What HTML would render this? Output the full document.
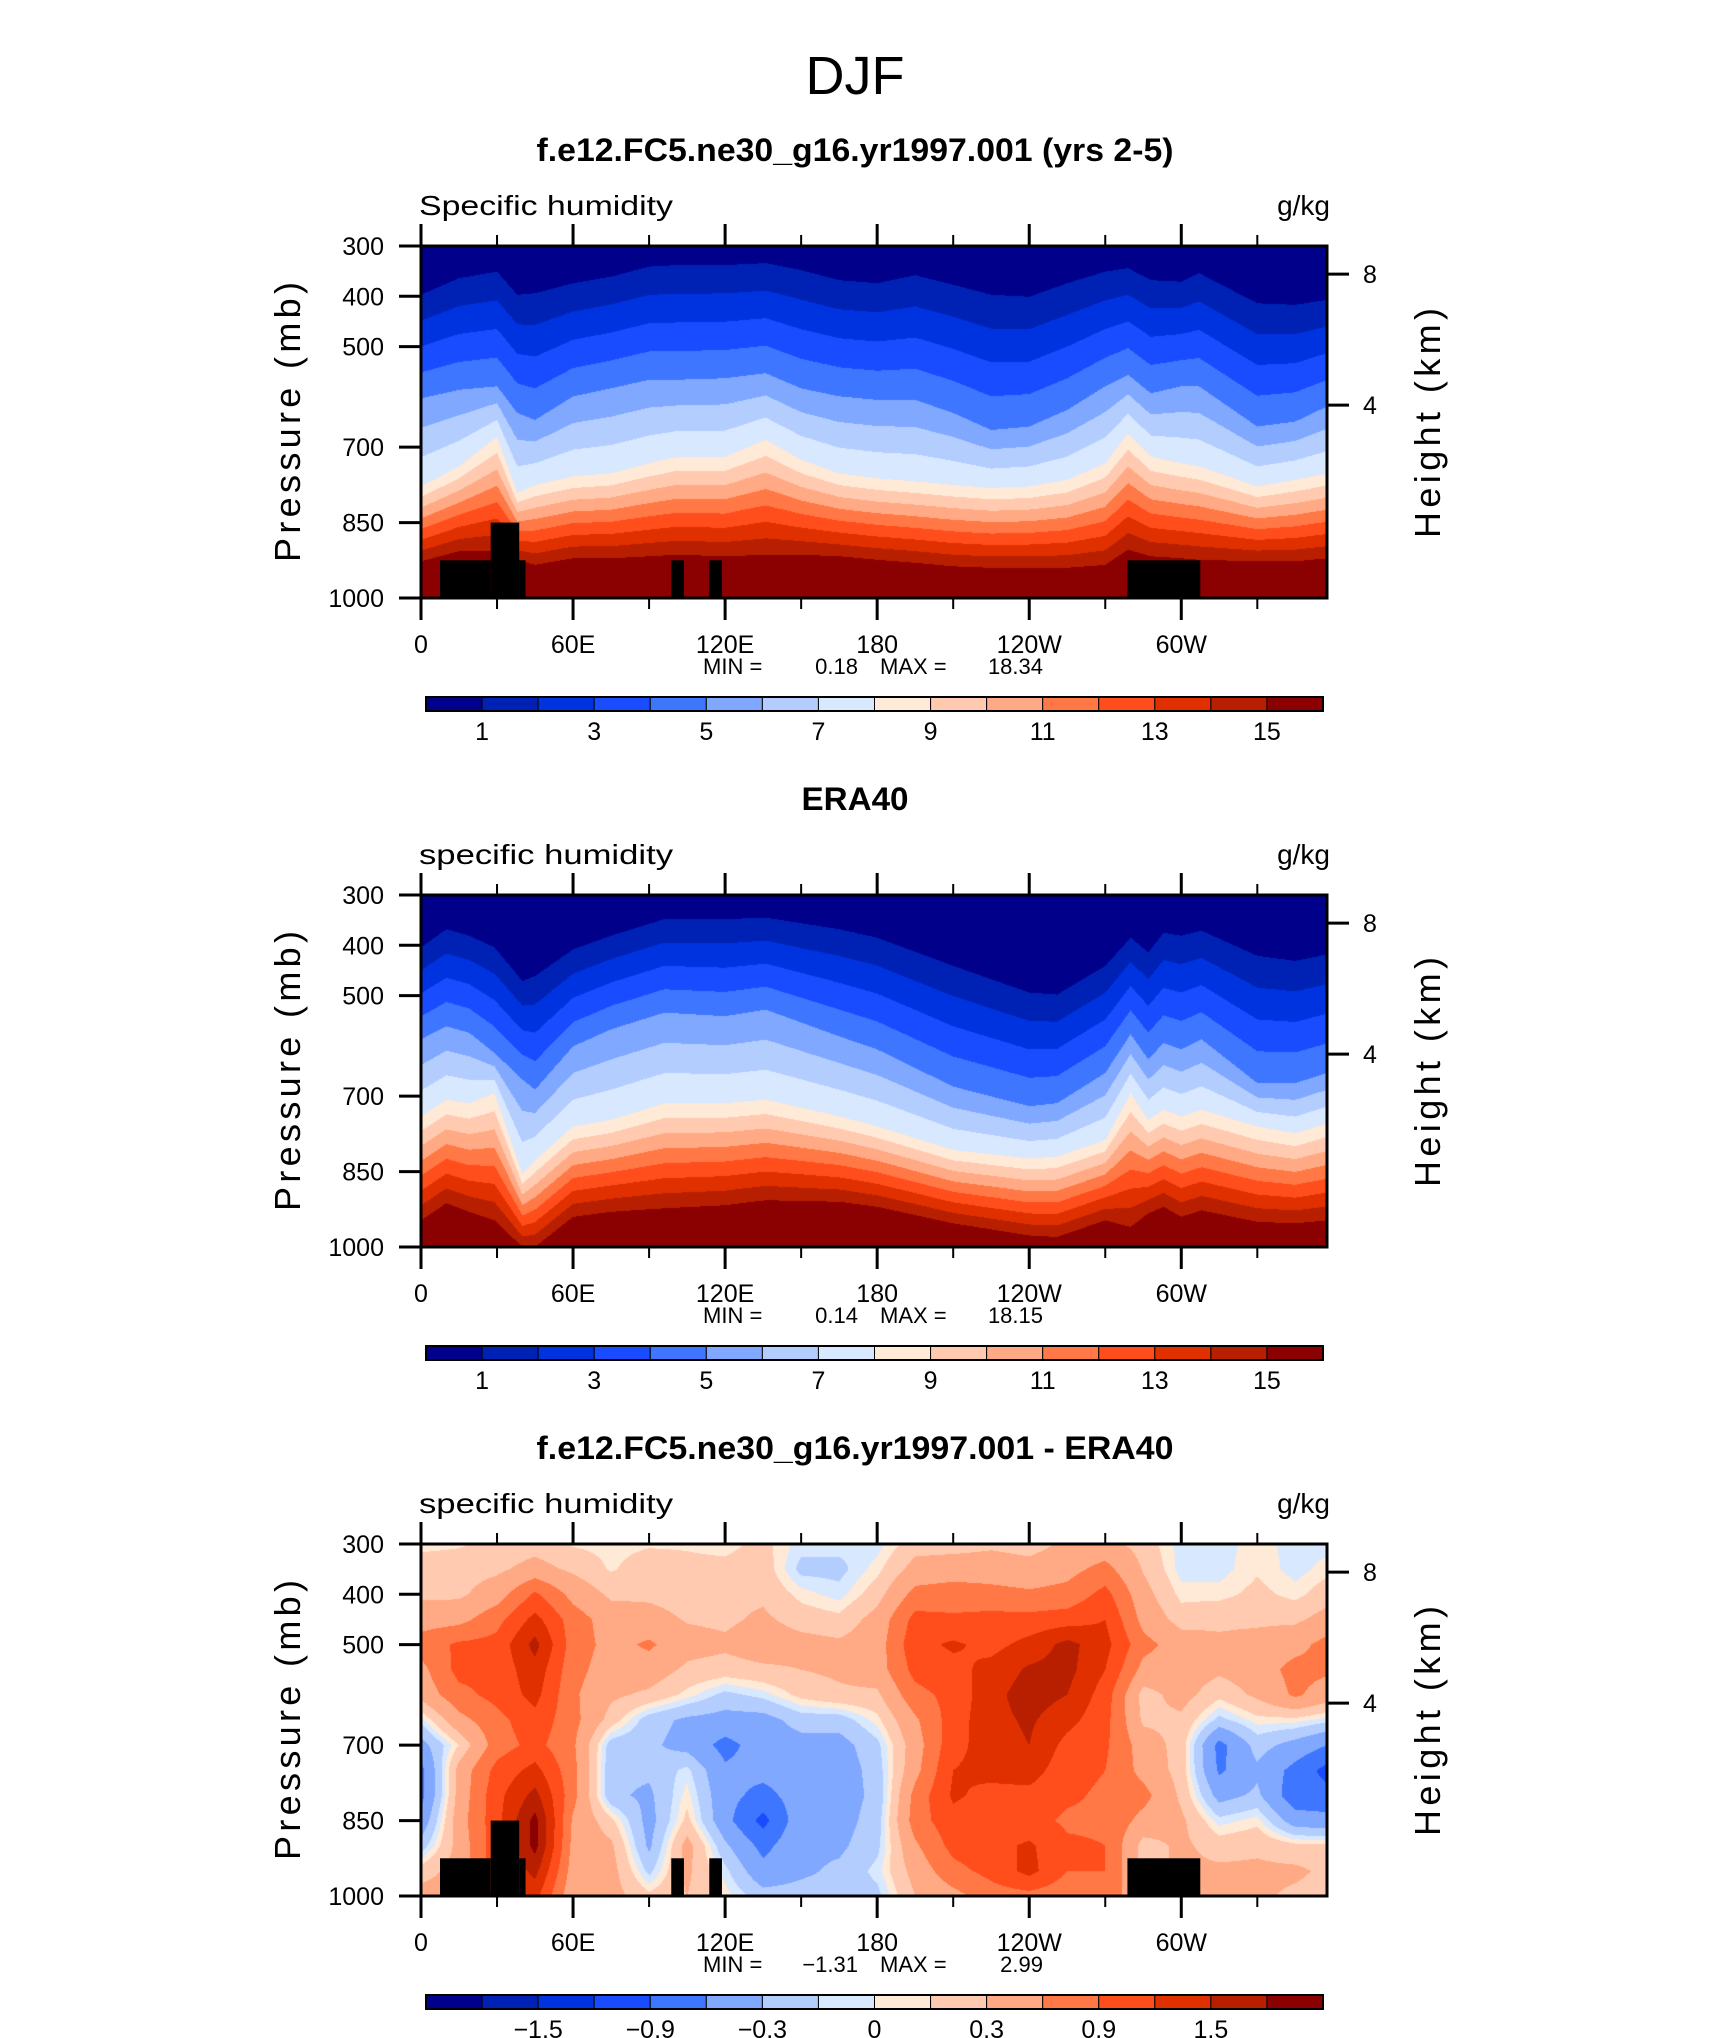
<!DOCTYPE html>
<html><head><meta charset="utf-8">
<style>
html,body{margin:0;padding:0;background:#fff;}
#wrap{position:relative;width:1710px;height:2038px;overflow:hidden;background:#fff;}
canvas{position:absolute;}
svg{position:absolute;left:0;top:0;}
text{font-family:"Liberation Sans",sans-serif;fill:#000;}
</style></head>
<body>
<div id="wrap">
<canvas id="c0" width="906" height="352" style="left:421px;top:246px"></canvas>
<canvas id="c1" width="906" height="352" style="left:421px;top:895px"></canvas>
<canvas id="c2" width="906" height="352" style="left:421px;top:1544px"></canvas>
<svg id="svg" width="1710" height="2038" xmlns="http://www.w3.org/2000/svg">
<text x="855" y="94" text-anchor="middle" font-size="54">DJF</text>
</svg>
</div>
<script>
// ---------------- data ----------------
const COLORS = ['#00008B','#0022B4','#0033E0','#1A4CFF','#3F76FF','#80A8FF','#B4CDFF','#D7E8FF','#FFE9D7','#FFCAB0','#FFAA84','#FF7846','#FF4D1C','#E03000','#B71F00','#8B0000'];
const Q_LABELS = ['1','3','5','7','9','11','13','15'];
const DIFF_LEVELS = [-1.8,-1.5,-1.2,-0.9,-0.6,-0.3,-0.1,0,0.1,0.3,0.6,0.9,1.2,1.5,1.8];
const DIFF_LABELS = ['\u22121.5','\u22120.9','\u22120.3','0','0.3','0.9','1.5'];
const P_TICKS = [300,400,500,700,850,1000];
const H_TICKS = [8,4];
const LON_MAJOR = [0,60,120,180,240,300];
const LON_LABELS = ['0','60E','120E','180','120W','60W'];
const LON_MINOR = [30,90,150,210,270,330];

// Model (panel 1): pressure (mb) of q = 1, 5, 8, 15 g/kg isolines
const m_lon = [0,15,30,38,45,60,75,90,101,120,136,150,165,180,195,210,225,240,255,270,279,288,300,307,330,345,357.5];
const m_p1  = [397,364,351,397,394,374,361,341,338,338,334,348,368,374,358,377,397,401,374,351,344,368,371,354,414,417,407];
const m_p5  = [603,586,579,632,646,599,583,566,566,563,553,583,599,606,606,632,666,659,626,579,556,593,579,579,659,649,619];
const m_p8  = [778,738,679,791,775,758,752,732,719,719,685,725,752,762,768,775,781,778,765,732,672,719,732,738,778,765,752];
const m_p15 = [927,907,907,924,934,921,921,917,914,917,914,914,917,924,930,937,940,940,940,934,904,917,921,924,927,927,921];

// ERA40 (panel 2)
const e_lon = [0,10,19,29,40,45,60,75,96,120,136,165,180,210,240,251,270,280,287,293,300,308,330,345,357.5];
const e_p1  = [404,368,381,404,471,461,408,381,348,348,345,368,385,441,494,498,441,385,414,375,381,371,421,431,418];
const e_p5  = [587,561,574,614,667,687,601,567,534,541,528,581,607,681,720,714,654,577,627,594,607,587,674,674,654];
const e_p8  = [740,707,714,694,854,827,760,747,714,714,707,740,760,807,824,820,787,694,747,727,740,727,760,774,754];
const e_p15 = [947,913,930,947,1000,1000,940,930,923,917,907,910,920,953,977,980,947,960,933,920,940,927,950,953,947];

// Difference (panel 3): values on lon x pressure grid
const d_lon  = [0,15,30,45,60,75,90,105,120,135,150,165,180,195,210,225,240,255,270,285,300,315,330,345,357.5];
const d_pres = [300,350,400,450,500,550,600,650,700,750,800,850,900,950,1000];
const d_vals = [
[0.05,0.2,0.25,0.45,0.75,0.5,0.4,-0.05,-0.4,-0.7,-0.7,-0.5,-0.2,0.2,0.4],
[0.08,0.2,0.25,0.5,0.95,1.0,0.8,0.5,0.1,0.4,0.4,0.45,0.4,0.4,0.4],
[0.15,0.25,0.45,0.8,1.0,1.0,1.0,0.8,0.75,1.0,1.1,1.1,1.1,1.1,1.1],
[0.2,0.4,0.95,1.3,1.6,1.4,1.3,1.1,1.0,1.3,1.6,1.9,1.9,1.6,1.3],
[0.08,0.25,0.5,0.75,0.75,0.7,0.65,0.7,0.65,0.7,0.7,0.55,0.5,0.45,0.35],
[0.05,0.08,0.25,0.45,0.5,0.45,0.35,0.2,-0.2,-0.25,-0.25,0.15,0.35,0.4,0.4],
[0.08,0.2,0.25,0.4,0.65,0.45,0.25,-0.2,-0.25,-0.25,-0.35,-0.4,-0.35,-0.15,0.15],
[0.08,0.15,0.2,0.28,0.4,0.25,0.05,-0.35,-0.4,-0.05,0.05,0.15,0.4,0.35,0.3],
[0.05,0.15,0.25,0.25,0.35,0.2,-0.15,-0.4,-0.7,-0.55,-0.5,-0.5,-0.25,-0.05,0.05],
[0.15,0.2,0.25,0.35,0.45,0.25,-0.05,-0.4,-0.45,-0.5,-0.7,-1.0,-0.7,-0.5,-0.2],
[-0.05,-0.15,0.05,0.2,0.4,0.3,0.15,-0.2,-0.4,-0.45,-0.45,-0.4,-0.35,-0.35,-0.2],
[-0.05,-0.15,-0.05,0.15,0.35,0.35,0.25,-0.2,-0.4,-0.45,-0.4,-0.4,-0.35,-0.25,-0.2],
[-0.05,0.05,0.2,0.4,0.45,0.45,0.25,0.05,-0.15,-0.2,-0.25,-0.2,-0.15,-0.05,-0.15],
[0.2,0.4,0.7,1.0,1.1,1.0,0.8,0.55,0.45,0.5,0.7,0.75,0.55,0.4,0.3],
[0.2,0.45,0.75,0.95,1.25,1.1,1.0,1.05,1.1,1.2,1.25,1.1,1.0,0.8,0.5],
[0.25,0.45,0.7,1.0,1.1,1.3,1.4,1.4,1.35,1.3,1.1,0.95,1.1,1.0,0.75],
[0.2,0.4,0.65,1.0,1.3,1.55,1.65,1.55,1.5,1.35,1.1,1.0,1.25,1.3,0.8],
[0.35,0.5,0.7,1.05,1.6,1.6,1.5,1.3,1.1,1.0,0.95,0.85,0.95,0.9,0.7],
[0.4,0.7,1.0,1.2,1.3,1.2,1.05,1.0,0.95,0.9,0.85,0.85,0.9,0.9,0.9],
[0.2,0.28,0.4,0.5,0.7,0.5,0.2,0.25,0.45,0.5,0.7,0.5,0.2,0.2,0.2],
[-0.05,-0.05,0.05,0.2,0.45,0.45,0.4,0.25,0.2,0.2,0.25,0.35,0.35,0.35,0.35],
[-0.05,-0.05,0.05,0.25,0.35,0.35,0.15,-0.15,-0.7,-0.65,-0.4,-0.05,0.2,0.35,0.4],
[0.05,0.08,0.15,0.25,0.4,0.45,0.35,0.05,-0.2,-0.35,-0.25,0.05,0.25,0.35,0.35],
[-0.05,-0.05,0.05,0.25,0.5,0.7,0.65,0.05,-0.4,-0.7,-0.8,-0.45,0.15,0.35,0.25],
[-0.05,0.05,0.2,0.4,0.7,0.65,0.45,-0.05,-0.6,-1.0,-0.8,-0.5,0.15,0.25,0.2]
];

// Topography mask: lon start, lon end, top pressure
const mask_lon0 = [7.5,27.5,38.75,98.75,113.75,278.75];
const mask_lon1 = [27.5,38.75,41.25,103.75,118.75,307.5];
const mask_ptop = [925,850,925,925,925,925];

const TITLES = ['f.e12.FC5.ne30_g16.yr1997.001 (yrs 2-5)','ERA40','f.e12.FC5.ne30_g16.yr1997.001 - ERA40'];
const TITLE_W = [637,107,637];
const LEFT_TITLES = ['Specific humidity','specific humidity','specific humidity'];
const MIN_VALS = ['0.18','0.14','\u22121.31'];
const MAX_VALS = ['18.34','18.15','2.99'];

// ---------------- scales ----------------
const PL=421, PW=906, PT=246, PH=352, OFF=649, LONMAX=357.5;
function xS(lon){return PL + lon/LONMAX*PW;}
function yS(p,k){return PT + k*OFF + (p-300)/700*PH;}
function hToP(z){return 1013.25*Math.pow(1-2.25577e-5*z*1000,5.256);}
function hexRGB(h){return [parseInt(h.substr(1,2),16),parseInt(h.substr(3,2),16),parseInt(h.substr(5,2),16)];}
const RGB = COLORS.map(hexRGB);
function interp(xs,ys,x){
  if(x<=xs[0]) return ys[0];
  for(let i=1;i<xs.length;i++){ if(x<=xs[i]){const t=(x-xs[i-1])/(xs[i]-xs[i-1]);return ys[i-1]+t*(ys[i]-ys[i-1]);} }
  return ys[ys.length-1];
}

function drawIso(canvasId,lon,p1,p5,p8,p15){
  const cv=document.getElementById(canvasId),ctx=cv.getContext('2d');
  const img=ctx.createImageData(PW,PH);
  for(let x=0;x<PW;x++){
    const L=(x+0.5)/PW*LONMAX;
    const a1=interp(lon,p1,L),a5=interp(lon,p5,L),a8=interp(lon,p8,L),a15=interp(lon,p15,L);
    const ps=[300,a1,a5,a8,a15,Math.max(1000,a15+1)];
    const qs=[0.2,1,5,8,15,17.5];
    for(let y=0;y<PH;y++){
      const p=300+(y+0.5)/PH*700;
      const q=interp(ps,qs,p);
      let idx=Math.max(0,Math.min(15,Math.floor(q)));
      const c=RGB[idx],o=(y*PW+x)*4;
      img.data[o]=c[0];img.data[o+1]=c[1];img.data[o+2]=c[2];img.data[o+3]=255;
    }
  }
  ctx.putImageData(img,0,0);
}
function drawDiff(canvasId){
  const cv=document.getElementById(canvasId),ctx=cv.getContext('2d');
  const img=ctx.createImageData(PW,PH);
  for(let x=0;x<PW;x++){
    const L=(x+0.5)/PW*LONMAX;
    let i=0; while(i<d_lon.length-2 && L>d_lon[i+1]) i++;
    const t=Math.max(0,Math.min(1,(L-d_lon[i])/(d_lon[i+1]-d_lon[i])));
    const col=d_pres.map((_,j)=>d_vals[i][j]*(1-t)+d_vals[i+1][j]*t);
    for(let y=0;y<PH;y++){
      const p=300+(y+0.5)/PH*700;
      const v=interp(d_pres,col,p);
      let idx=0; for(const lv of DIFF_LEVELS){ if(v>=lv) idx++; }
      const c=RGB[idx],o=(y*PW+x)*4;
      img.data[o]=c[0];img.data[o+1]=c[1];img.data[o+2]=c[2];img.data[o+3]=255;
    }
  }
  ctx.putImageData(img,0,0);
}
drawIso('c0',m_lon,m_p1,m_p5,m_p8,m_p15);
drawIso('c1',e_lon,e_p1,e_p5,e_p8,e_p15);
drawDiff('c2');

// ---------------- SVG overlay ----------------
const NS='http://www.w3.org/2000/svg', svg=document.getElementById('svg');
function el(tag,attrs,parent){const e=document.createElementNS(NS,tag);for(const k in attrs)e.setAttribute(k,attrs[k]);(parent||svg).appendChild(e);return e;}
function txt(s,attrs,parent){const e=el('text',attrs,parent);e.textContent=s;return e;}

for(let k=0;k<3;k++){
  const g=el('g',{});
  
  
  const top=PT+k*OFF, bot=top+PH;
  if(k!==1){
    for(let m=0;m<mask_lon0.length;m++){
      const r=el('rect',{x:xS(mask_lon0[m]),y:yS(mask_ptop[m],k),width:xS(mask_lon1[m])-xS(mask_lon0[m]),height:yS(1000,k)-yS(mask_ptop[m],k),fill:'#000'},g);
      
      
    }
  }
  const fr=el('rect',{x:PL,y:top,width:PW,height:PH,fill:'none',stroke:'#000','stroke-width':3},g);
  
  
  const t=txt(TITLES[k],{x:855,y:161+k*OFF,'text-anchor':'middle','font-size':32,'font-weight':'bold',textLength:TITLE_W[k],lengthAdjust:'spacingAndGlyphs'},g);
  
  
  const lt=txt(LEFT_TITLES[k],{x:419,y:215+k*OFF,'font-size':28,textLength:254,lengthAdjust:'spacingAndGlyphs'},g);
  
  
  const ut=txt('g/kg',{x:1330,y:215+k*OFF,'text-anchor':'end','font-size':28},g);
  
  
  const yt=txt('Pressure (mb)',{x:0,y:0,'text-anchor':'middle','font-size':36,textLength:280,lengthAdjust:'spacing',transform:`translate(300,${top+176}) rotate(-90)`},g);
  
  
  const ht=txt('Height (km)',{x:0,y:0,'text-anchor':'middle','font-size':36,textLength:230,lengthAdjust:'spacing',transform:`translate(1440,${top+177}) rotate(-90)`},g);
  
  
  P_TICKS.forEach(p=>{
    const y=yS(p,k);
    const tk=el('line',{x1:PL-22,x2:PL,y1:y,y2:y,stroke:'#000','stroke-width':3},g);
    
    
    const tl=txt(String(p),{x:384,y:y+9,'text-anchor':'end','font-size':25},g);
    
    
  });
  H_TICKS.forEach(h=>{
    const y=yS(hToP(h),k);
    const tk=el('line',{x1:PL+PW,x2:PL+PW+22,y1:y,y2:y,stroke:'#000','stroke-width':3},g);
    
    
    const tl=txt(String(h),{x:1363,y:y+9,'font-size':25},g);
    
    
  });
  LON_MAJOR.forEach((L,i)=>{
    const x=xS(L);
    const a=el('line',{x1:x,x2:x,y1:top-22,y2:top,stroke:'#000','stroke-width':3},g);
    
    
    const b=el('line',{x1:x,x2:x,y1:bot,y2:bot+22,stroke:'#000','stroke-width':3},g);
    
    
    const tl=txt(LON_LABELS[i],{x:x,y:bot+55,'text-anchor':'middle','font-size':25},g);
    
    
  });
  LON_MINOR.forEach(L=>{
    const x=xS(L);
    const a=el('line',{x1:x,x2:x,y1:top-11,y2:top,stroke:'#000','stroke-width':2},g);
    
    
    const b=el('line',{x1:x,x2:x,y1:bot,y2:bot+11,stroke:'#000','stroke-width':2},g);
    
    
  });
  const mmY=bot+76;
  const m1=txt('MIN =',{x:703,y:mmY,'font-size':22},g);
  
  
  const m2=txt(MIN_VALS[k],{x:858,y:mmY,'text-anchor':'end','font-size':22},g);
  
  
  const m3=txt('MAX =',{x:880,y:mmY,'font-size':22},g);
  
  
  const m4=txt(MAX_VALS[k],{x:1043,y:mmY,'text-anchor':'end','font-size':22},g);
  
  
  const cb=el('g',{},g);
  
  
  const cx0=426, cw=897, cy=697+k*OFF, ch=14, sw=cw/COLORS.length;
  COLORS.forEach((c,i)=>{
    const r=el('rect',{x:cx0+i*sw,y:cy,width:sw,height:ch,fill:c,stroke:'#000','stroke-width':1},cb);
    
    
  });
  el('rect',{x:cx0,y:cy,width:cw,height:ch,fill:'none',stroke:'#000','stroke-width':2},cb);
  const labels=(k===2)?DIFF_LABELS:Q_LABELS;
  labels.forEach((s,i)=>{
    const x=cx0+sw*(1+2*i)+(k===2?sw:0);
    const tl=txt(s,{x:x,y:cy+43,'text-anchor':'middle','font-size':25},cb);
    
    
  });
}
</script>
</body></html>
